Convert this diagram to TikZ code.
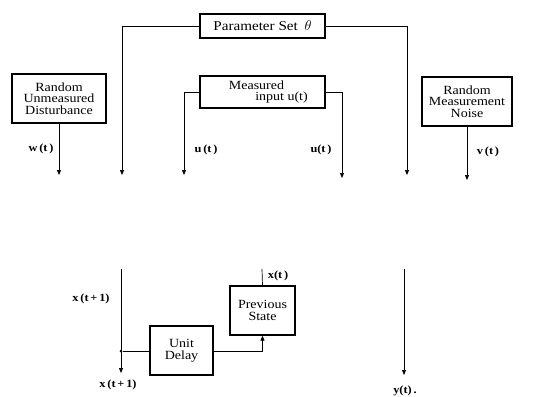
\documentclass[tikz,border=0pt]{standalone}
\usepackage{fontspec}
\setmainfont{Liberation Serif}
\newfontfamily\widefont[FakeStretch=1.12]{Liberation Serif}
\usetikzlibrary{arrows.meta}
\begin{document}
\begin{tikzpicture}[x=1pt,y=-1pt,
  blk/.style={draw,line width=1.3pt,inner sep=0pt,align=center,font=\widefont\fontsize{12.5}{11.5}\selectfont},
  con/.style={line width=0.7pt},
  arr/.style={con,-{Triangle[length=5pt,width=4pt]}},
  lbl/.style={font=\widefont\fontsize{11}{12}\bfseries\selectfont},
  dot/.style={circle,fill,inner sep=0pt,minimum size=3pt}]
\useasboundingbox (0,0) rectangle (542,397);
% boxes
\node[blk,minimum width=125pt,minimum height=24pt,font=\widefont\fontsize{13.5}{14}\selectfont] (par) at (262.5,26) {Parameter Set\enspace$\theta$};
\node[blk,minimum width=94pt,minimum height=49pt] (dist) at (59,98.5) {Random\\Unmeasured\\Disturbance};
\node[blk,minimum width=125pt,minimum height=32pt] (meas) at (262.5,92) {\hspace*{-12pt}Measured\\\hspace*{38pt}input u(t)};
\node[blk,minimum width=90pt,minimum height=49pt] (noise) at (467,101.5) {Random\\Measurement\\Noise};
\node[blk,minimum width=63pt,minimum height=49pt] (delay) at (181.5,350.5) {Unit\\Delay};
\node[blk,minimum width=65pt,minimum height=49pt] (prev) at (262.5,310.5) {Previous\\State};
% coordinates
\coordinate (pL) at (122,175);
\coordinate (pR) at (407,175);
\coordinate (dw) at (59,175);
\coordinate (mL) at (184,175);
\coordinate (mR) at (342,178);
\coordinate (nv) at (467,180);
\coordinate (xt) at (121,269);
\coordinate (xe) at (121,373);
\coordinate (yt) at (404,269);
\coordinate (ye) at (404,375);
\coordinate (pt) at (262,269);
\node[dot] (j) at (121,351) {};
% connectors
\draw[arr] (par.west) -| (pL);
\draw[arr] (par.east) -| (pR);
\draw[arr] (dist.south) -- (dw);
\draw[arr] (meas.west) -| (mL);
\draw[arr] (meas.east) -| (mR);
\draw[arr] (noise.south) -- (nv);
\draw[arr] (xt) -- (xe);
\draw[con] (j) -- (j -| delay.west);
\draw[arr] (delay.east |- j) -| (prev.south);
\draw[con] (prev.north) -- (pt);
\draw[arr] (yt) -- (ye);
% labels
\node[lbl] (lw) at (41,149) {w\,(t\,)};
\node[lbl] (lu1) at (206,150) {u\,(t\,)};
\node[lbl] (lu2) at (321,150) {u(t\,)};
\node[lbl] (lv) at (488,152) {v\,(t\,)};
\node[lbl] (lx1) at (91,299) {x\,(t\,+\,1)};
\node[lbl] (lxt) at (278,276) {x(t\,)};
\node[lbl] (lx2) at (118,385) {x\,(t\,+\,1)};
\node[lbl] (ly) at (405,391) {y(t)\,.};
\end{tikzpicture}
\end{document}
